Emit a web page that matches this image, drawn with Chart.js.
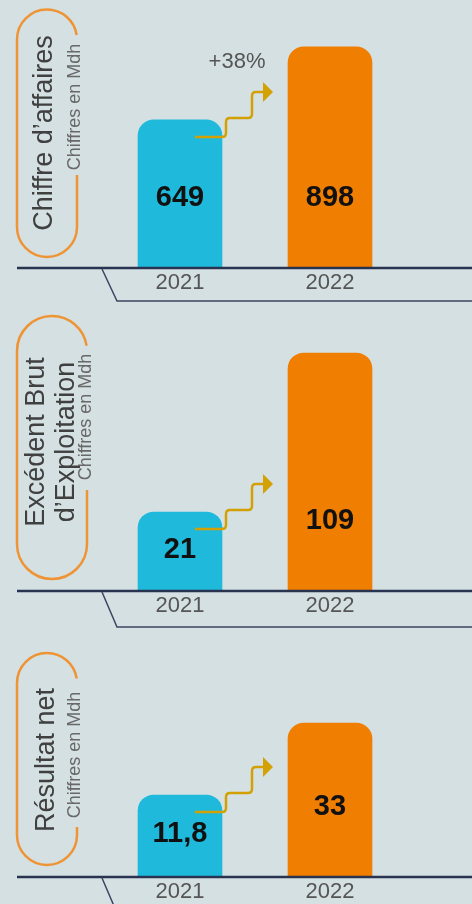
<!DOCTYPE html>
<html>
<head>
  <meta charset="UTF-8">
  <script src="https://cdn.jsdelivr.net/npm/chart.js@4.4.0/dist/chart.umd.min.js"></script>
  <style>
    html, body { margin: 0; padding: 0; }
    body {
      width: 472px; height: 904px; overflow: hidden; position: relative;
      background: #d5e0e3;
      font-family: "Liberation Sans", Arial, sans-serif;
    }
    canvas { position: absolute; left: 0; }
    .titre, .sous {
      position: absolute; white-space: nowrap; text-align: center;
      transform: translate(-50%, -50%) rotate(-90deg);
    }
    .titre { font-size: 27px; line-height: 30px; color: #404040; }
    .sous { font-size: 18px; line-height: 18px; color: #686868; }
  </style>
</head>
<body>
  <canvas id="c1" width="472" height="302" style="top:0px"></canvas>
  <canvas id="c2" width="472" height="328" style="top:302px"></canvas>
  <canvas id="c3" width="472" height="280" style="top:630px"></canvas>

  <div class="titre" style="left:43px; top:133px">Chiffre d’affaires</div>
  <div class="sous" style="left:74px; top:107px">Chiffres en Mdh</div>

  <div class="titre" style="left:50px; top:442px">Excédent Brut<br>d’Exploitation</div>
  <div class="sous" style="left:85px; top:417px">Chiffres en Mdh</div>

  <div class="titre" style="left:45px; top:760px">Résultat net</div>
  <div class="sous" style="left:74px; top:755px">Chiffres en Mdh</div>

  <script>
    // données
    const years = ['2021', '2022'];
    const chiffreAffaires = [649, 898];
    const ebe = [21, 109];
    const resultatNet = [11.8, 33];
    const growthLabels = ['+38%', '', ''];

    const barColors = ['#1fb9dc', '#f07e00'];

    Chart.defaults.font.family = '"Liberation Sans", Arial, sans-serif';

    function fmt(v) {
      return String(v).replace('.', ',');
    }

    // pastille, ligne de base, flèche, valeurs
    const decor = {
      id: 'decor',
      beforeDatasetsDraw(chart, args, o) {
        const ctx = chart.ctx;
        const p = o.pill;
        const r = p.w / 2;
        ctx.save();
        ctx.strokeStyle = '#ef9435';
        ctx.lineWidth = 2.5;
        ctx.beginPath();
        ctx.moveTo(p.x + p.w, p.gapBottom);
        ctx.lineTo(p.x + p.w, p.y + p.h - r);
        ctx.arc(p.x + r, p.y + p.h - r, r, 0, Math.PI);
        ctx.lineTo(p.x, p.y + r);
        ctx.arc(p.x + r, p.y + r, r, Math.PI, Math.PI * 2 - 0.15);
        ctx.stroke();
        ctx.restore();
      },
      afterDatasetsDraw(chart, args, o) {
        const ctx = chart.ctx;
        const yb = chart.scales.y.getPixelForValue(o.base);
        const bars = chart.getDatasetMeta(0).data;
        const vals = chart.data.datasets[0].data;
        ctx.save();

        // ligne de base + plateau
        ctx.strokeStyle = '#283350';
        ctx.lineWidth = 2.5;
        ctx.beginPath();
        ctx.moveTo(17, yb);
        ctx.lineTo(472, yb);
        ctx.stroke();
        ctx.strokeStyle = '#3b4661';
        ctx.lineWidth = 1.5;
        ctx.beginPath();
        ctx.moveTo(102, yb + 1);
        ctx.lineTo(117, yb + o.tray);
        ctx.lineTo(472, yb + o.tray);
        ctx.stroke();

        // valeurs
        ctx.fillStyle = '#111';
        ctx.font = 'bold 29px "Liberation Sans", Arial, sans-serif';
        ctx.textAlign = 'center';
        ctx.textBaseline = 'middle';
        bars.forEach((b, i) => {
          const h = b.base - b.y;
          ctx.fillText(fmt(vals[i]), b.x, b.base - Math.min(70, h / 2 + 2));
        });

        // flèche
        const sx = bars[0].x + 15, sy = bars[0].y + 17;
        ctx.strokeStyle = '#d3a104';
        ctx.fillStyle = '#d3a104';
        ctx.lineWidth = 2.5;
        ctx.beginPath();
        ctx.moveTo(sx, sy);
        ctx.lineTo(sx + 27, sy);
        ctx.quadraticCurveTo(sx + 31, sy, sx + 31, sy - 4);
        ctx.lineTo(sx + 31, sy - 15);
        ctx.quadraticCurveTo(sx + 31, sy - 19, sx + 35, sy - 19);
        ctx.lineTo(sx + 53, sy - 19);
        ctx.quadraticCurveTo(sx + 57, sy - 19, sx + 57, sy - 23);
        ctx.lineTo(sx + 57, sy - 41);
        ctx.quadraticCurveTo(sx + 57, sy - 45, sx + 61, sy - 45);
        ctx.lineTo(sx + 69, sy - 45);
        ctx.stroke();
        ctx.beginPath();
        ctx.moveTo(sx + 68, sy - 55);
        ctx.lineTo(sx + 78, sy - 45);
        ctx.lineTo(sx + 68, sy - 35);
        ctx.closePath();
        ctx.fill();

        if (o.growth) {
          ctx.fillStyle = '#555';
          ctx.font = '22px "Liberation Sans", Arial, sans-serif';
          ctx.fillText(o.growth, sx + 42, sy - 75);
        }
        ctx.restore();
      }
    };

    function makeChart(id, values, yMin, yMax, padBottom, pill, tray, growth) {
      new Chart(document.getElementById(id), {
        type: 'bar',
        data: {
          labels: years,
          datasets: [{
            data: values,
            backgroundColor: barColors,
            barThickness: 84,
            borderRadius: 16,
            borderSkipped: 'start',
            base: yMin
          }]
        },
        options: {
          responsive: false,
          animation: false,
          layout: { padding: { left: 105, right: 67, top: 0, bottom: padBottom } },
          scales: {
            x: {
              grid: { display: false, drawTicks: false },
              border: { display: false },
              ticks: { color: '#555', padding: 4, font: { size: 22, lineHeight: 1 } }
            },
            y: { display: false, min: yMin, max: yMax }
          },
          plugins: {
            legend: { display: false },
            tooltip: { enabled: false },
            decor: { base: yMin, pill: pill, tray: tray, growth: growth }
          }
        },
        plugins: [decor]
      });
    }

    makeChart('c1', chiffreAffaires, 144, 1058, 4,
      { x: 17, y: 9.5, w: 60, h: 247.5, gapBottom: 175 }, 33, growthLabels[0]);
    makeChart('c2', ebe, -22.7, 137.2, 9,
      { x: 17, y: 14, w: 70, h: 263, gapBottom: 188 }, 36, growthLabels[1]);
    makeChart('c3', resultatNet, -12.35, 60.4, 3,
      { x: 17, y: 23, w: 60, h: 212, gapBottom: 197 }, 36, growthLabels[2]);
  </script>
</body>
</html>
